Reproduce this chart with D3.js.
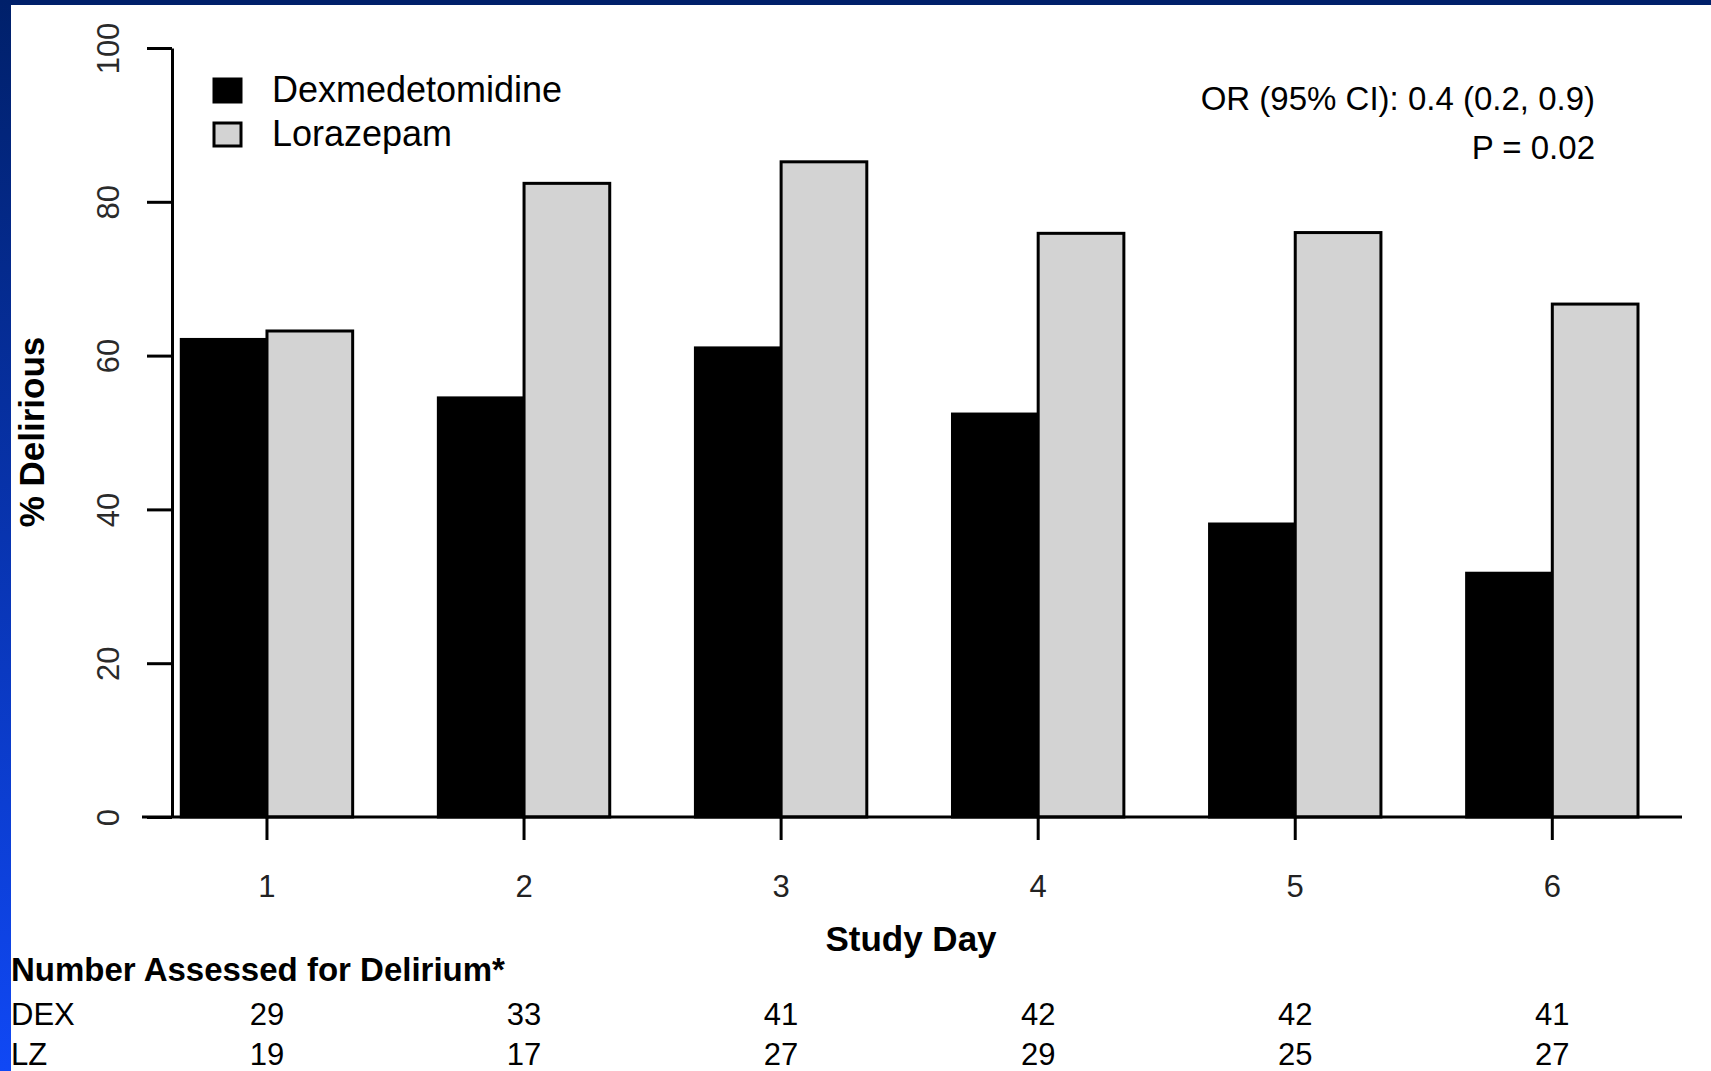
<!DOCTYPE html>
<html>
<head>
<meta charset="utf-8">
<script src="https://cdn.jsdelivr.net/npm/d3@7"></script>
<style>
  body { margin: 0; background: #fff; }
  svg text { font-family: "Liberation Sans", Arial, sans-serif; fill: #000; }
</style>
</head>
<body>
<svg id="chart"></svg>
<script>
// data
var days = ["1", "2", "3", "4", "5", "6"];
var dexPct = [62.1, 54.5, 61.0, 52.4, 38.1, 31.7];
var lzPct = [63.2, 82.4, 85.2, 75.9, 76.0, 66.7];
var dexN = [29, 33, 41, 42, 42, 41];
var lzN = [19, 17, 27, 29, 25, 27];
var yTicks = [0, 20, 40, 60, 80, 100];
var seriesNames = ["Dexmedetomidine", "Lorazepam"];
var seriesColors = ["#000000", "#d3d3d3"];

var W = 1711, H = 1071;

var svg = d3.select("#chart")
    .attr("width", W)
    .attr("height", H)
    .style("display", "block");

svg.append("rect").attr("width", W).attr("height", H).attr("fill", "#fff");

// slide frame: navy strip on top, blue gradient strip on the left
var grad = svg.append("defs").append("linearGradient")
    .attr("id", "side").attr("x1", 0).attr("y1", 0).attr("x2", 0).attr("y2", 1);
grad.append("stop").attr("offset", "0%").attr("stop-color", "#00206a");
grad.append("stop").attr("offset", "100%").attr("stop-color", "#1048f5");
svg.append("rect").attr("x", 0).attr("y", 0).attr("width", W).attr("height", 5).attr("fill", "#00206a");
svg.append("rect").attr("x", 0).attr("y", 0).attr("width", 11).attr("height", H).attr("fill", "url(#side)");

var axisX = 172, baseY = 817;

var y = d3.scaleLinear().domain([0, 100]).range([baseY, 48]);

var x0 = d3.scaleBand().domain(days)
    .range([95.6, 1638])
    .paddingInner(1 / 3)
    .paddingOuter(1 / 6)
    .align(1);
var x1 = d3.scaleBand().domain([0, 1]).range([0, x0.bandwidth()]);

var rows = days.map(function(d, i) {
    return { day: d, vals: [dexPct[i], lzPct[i]] };
});

// bars
var g = svg.selectAll(".grp").data(rows).enter().append("g")
    .attr("class", "grp")
    .attr("transform", function(d) { return "translate(" + x0(d.day) + ",0)"; });

g.selectAll("rect").data(function(d) { return d.vals; }).enter().append("rect")
    .attr("x", function(d, i) { return x1(i); })
    .attr("y", function(d) { return y(d); })
    .attr("width", x1.bandwidth())
    .attr("height", function(d) { return baseY - y(d); })
    .attr("fill", function(d, i) { return seriesColors[i]; })
    .attr("stroke", "#000")
    .attr("stroke-width", 3);

// y axis
var yAxis = svg.append("g")
    .attr("transform", "translate(" + axisX + ",0)")
    .call(d3.axisLeft(y).tickValues(yTicks).tickSize(25).tickSizeOuter(0));
yAxis.select(".domain").attr("stroke-width", 3);
yAxis.selectAll(".tick line").attr("stroke-width", 3);
yAxis.selectAll(".tick text")
    .attr("transform", "rotate(-90)")
    .attr("x", 0)
    .attr("y", -53)
    .attr("dy", null)
    .attr("text-anchor", "middle")
    .style("font-size", "31px")
    .style("fill", "#2a2a2a");

// x axis
var xAxis = svg.append("g")
    .attr("transform", "translate(0," + baseY + ")")
    .call(d3.axisBottom(x0).tickSize(23).tickSizeOuter(0).tickPadding(44));
xAxis.select(".domain").remove();
xAxis.append("line")
    .attr("x1", 142).attr("x2", 1682)
    .attr("stroke", "#000").attr("stroke-width", 3);
xAxis.selectAll(".tick line").attr("stroke-width", 3);
xAxis.selectAll(".tick text")
    .attr("dy", null)
    .attr("y", 80)
    .style("font-size", "31px")
    .style("fill", "#222");

// axis titles
svg.append("text")
    .attr("transform", "translate(44,432) rotate(-90)")
    .attr("text-anchor", "middle")
    .style("font-size", "35px")
    .style("font-weight", "bold")
    .text("% Delirious");

svg.append("text")
    .attr("x", 911).attr("y", 951)
    .attr("text-anchor", "middle")
    .style("font-size", "35px")
    .style("font-weight", "bold")
    .text("Study Day");

// legend
var leg = svg.selectAll(".leg").data(seriesNames).enter().append("g")
    .attr("class", "leg")
    .attr("transform", function(d, i) { return "translate(214," + (79 + i * 44) + ")"; });
leg.append("rect")
    .attr("width", 27).attr("height", 23)
    .attr("fill", function(d, i) { return seriesColors[i]; })
    .attr("stroke", "#000").attr("stroke-width", 3);
leg.append("text")
    .attr("x", 58).attr("y", 23)
    .style("font-size", "36px")
    .text(function(d) { return d; });

// test statistics
svg.append("text")
    .attr("x", 1595).attr("y", 110)
    .attr("text-anchor", "end")
    .style("font-size", "33px")
    .text("OR (95% CI): 0.4 (0.2, 0.9)");
svg.append("text")
    .attr("x", 1595).attr("y", 159)
    .attr("text-anchor", "end")
    .style("font-size", "33px")
    .text("P = 0.02");

// number-assessed table
svg.append("text")
    .attr("x", 11).attr("y", 981)
    .style("font-size", "33px")
    .style("font-weight", "bold")
    .text("Number Assessed for Delirium*");

var tableRows = [{ label: "DEX", n: dexN, yy: 1025 }, { label: "LZ", n: lzN, yy: 1065 }];
tableRows.forEach(function(r) {
    svg.append("text").attr("x", 11).attr("y", r.yy)
        .style("font-size", "31px").text(r.label);
    svg.selectAll(null).data(r.n).enter().append("text")
        .attr("x", function(d, i) { return x0(days[i]) + x0.bandwidth() / 2; })
        .attr("y", r.yy)
        .attr("text-anchor", "middle")
        .style("font-size", "31px")
        .text(function(d) { return d; });
});
</script>
</body>
</html>
